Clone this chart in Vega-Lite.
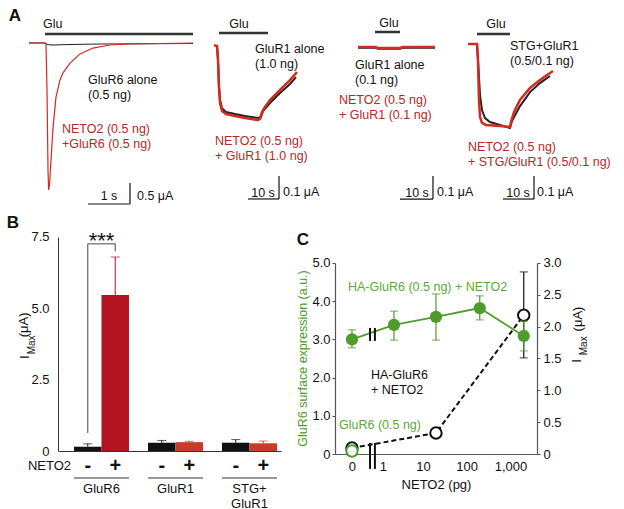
{
"$schema":"https://vega.github.io/schema/vega-lite/v6.json",
"padding":0,
"autosize":{"type":"pad"},
"background":"white",
"config":{"view":{"stroke":null},"font":"Liberation Sans","concat":{"spacing":0}},
"datasets":{
"a1k":[{"t":0.69,"i":0},{"t":1.071,"i":0},{"t":1.119,"i":-0.036},{"t":1.238,"i":-0.048},{"t":1.667,"i":-0.036},{"t":2.381,"i":-0.024},{"t":4.595,"i":-0.012}],
"a1r":[{"t":0.69,"i":0},{"t":1.071,"i":0},{"t":1.095,"i":-0.02},{"t":1.119,"i":-1.12},{"t":1.143,"i":-3.02},{"t":1.157,"i":-3.5},{"t":1.179,"i":-3.38},{"t":1.214,"i":-2.79},{"t":1.262,"i":-2.02},{"t":1.333,"i":-1.29},{"t":1.429,"i":-0.88},{"t":1.5,"i":-0.71},{"t":1.667,"i":-0.48},{"t":1.905,"i":-0.26},{"t":2.214,"i":-0.12},{"t":2.619,"i":-0.048},{"t":3.095,"i":-0.024},{"t":3.81,"i":-0.012},{"t":4.595,"i":-0.005}],
"a2k":[{"t":2.26,"i":0},{"t":2.58,"i":-0.061},{"t":2.9,"i":-0.17},{"t":3.23,"i":-0.235},{"t":3.87,"i":-0.27},{"t":5.16,"i":-0.287},{"t":8.06,"i":-0.296},{"t":11.29,"i":-0.304},{"t":15.48,"i":-0.313},{"t":16.45,"i":-0.309},{"t":17.1,"i":-0.283},{"t":19.35,"i":-0.248},{"t":22.58,"i":-0.204},{"t":25.81,"i":-0.165},{"t":27.74,"i":-0.135}],
"a2r":[{"t":1.29,"i":0.004},{"t":2.26,"i":0},{"t":2.58,"i":-0.061},{"t":2.9,"i":-0.183},{"t":3.23,"i":-0.248},{"t":3.87,"i":-0.283},{"t":5.16,"i":-0.296},{"t":8.06,"i":-0.304},{"t":11.29,"i":-0.313},{"t":15.48,"i":-0.322},{"t":16.13,"i":-0.317},{"t":16.77,"i":-0.287},{"t":17.74,"i":-0.265},{"t":19.35,"i":-0.235},{"t":22.58,"i":-0.191},{"t":25.81,"i":-0.148},{"t":28.06,"i":-0.113}],
"a3k":[{"t":7.42,"i":-0.003},{"t":12.9,"i":-0.003},{"t":14,"i":-0.008},{"t":21,"i":-0.008},{"t":22,"i":-0.003},{"t":32.26,"i":-0.003}],
"a3r":[{"t":7.42,"i":0},{"t":12.9,"i":0},{"t":13.87,"i":-0.004},{"t":20.97,"i":-0.004},{"t":21.9,"i":0},{"t":32.26,"i":0}],
"a4k":[{"t":8.71,"i":0},{"t":9.03,"i":-0.07},{"t":9.68,"i":-0.222},{"t":10.32,"i":-0.287},{"t":11.29,"i":-0.322},{"t":12.9,"i":-0.339},{"t":16.13,"i":-0.352},{"t":19.35,"i":-0.365},{"t":20,"i":-0.335},{"t":22.58,"i":-0.27},{"t":25.81,"i":-0.209},{"t":29.03,"i":-0.17},{"t":32.26,"i":-0.139}],
"a4r":[{"t":5.81,"i":0},{"t":8.71,"i":0},{"t":9.03,"i":-0.07},{"t":9.35,"i":-0.243},{"t":9.68,"i":-0.317},{"t":10.32,"i":-0.343},{"t":11.61,"i":-0.352},{"t":16.13,"i":-0.357},{"t":19.35,"i":-0.361},{"t":19.68,"i":-0.339},{"t":20.65,"i":-0.296},{"t":22.58,"i":-0.243},{"t":25.81,"i":-0.191},{"t":29.03,"i":-0.157},{"t":31.29,"i":-0.135},{"t":33.23,"i":-0.117}],
"bdata":[
{"group":"GluR6","neto":"-","v":0.15,"hi":0.25,"key":"GluR6-"},
{"group":"GluR6","neto":"+","v":5.47,"hi":6.8,"key":"GluR6+"},
{"group":"GluR1","neto":"-","v":0.29,"hi":0.37,"key":"GluR1-"},
{"group":"GluR1","neto":"+","v":0.31,"hi":0.34,"key":"GluR1+"},
{"group":"STG+ GluR1","neto":"-","v":0.29,"hi":0.4,"key":"STG-"},
{"group":"STG+ GluR1","neto":"+","v":0.27,"hi":0.35,"key":"STG+"}],
"cexp":[{"dose":0,"expr":3.0,"lo":2.78,"hi":3.25},{"dose":2,"expr":3.38,"lo":2.98,"hi":3.74},{"dose":20,"expr":3.59,"lo":2.98,"hi":4.19},{"dose":200,"expr":3.82,"lo":3.51,"hi":4.14},{"dose":2000,"expr":3.09,"lo":2.7,"hi":3.48}],
"calone":[{"dose":0,"expr":0.08}],
"cim":[{"dose":0,"imax":0.094},{"dose":20,"imax":0.33},{"dose":2000,"imax":2.18,"lo":1.51,"hi":2.86}]
},
"spacing":0,
"vconcat":[
{"hconcat":[
 {"width":210,"height":214,"view":{"fill":"white","stroke":null},"data":{"values":[{}]},"layer":[
  {"data":{"name":"a1k"},"mark":{"type":"line","color":"#222","strokeWidth":1.2},"encoding":{"x":{"field":"t","type":"quantitative","scale":{"domain":[0,5],"nice":false,"zero":false},"axis":null},"y":{"field":"i","type":"quantitative","scale":{"domain":[-4.0714,1.024],"nice":false,"zero":false},"axis":null}}},
  {"data":{"name":"a1r"},"mark":{"type":"line","color":"#d22b1f","strokeWidth":1.2},"encoding":{"x":{"field":"t","type":"quantitative","axis":null},"y":{"field":"i","type":"quantitative","axis":null}}},
  {"mark":{"type":"rule","color":"#333","strokeWidth":2.5},"encoding":{"x":{"datum":1.071,"axis":null},"x2":{"datum":4.595},"y":{"datum":0.214,"axis":null}}},
  {"mark":{"type":"text","align":"left","baseline":"middle","fontSize":12.5,"color":"#111"},"encoding":{"x":{"datum":1.024,"axis":null},"y":{"datum":0.452,"axis":null},"text":{"value":"Glu"}}},
  {"mark":{"type":"text","align":"center","baseline":"middle","fontSize":17,"fontWeight":"bold","color":"#111"},"encoding":{"x":{"datum":0.357,"axis":null},"y":{"datum":0.643,"axis":null},"text":{"value":"A"}}},
  {"mark":{"type":"text","align":"left","baseline":"top","fontSize":12.5,"lineHeight":15.5,"color":"#111"},"encoding":{"x":{"datum":2.095,"axis":null},"y":{"datum":-0.729,"axis":null},"text":{"value":["GluR6 alone","(0.5 ng)"]}}},
  {"mark":{"type":"text","align":"left","baseline":"top","fontSize":12.5,"lineHeight":15.5,"color":"#b8281e"},"encoding":{"x":{"datum":1.476,"axis":null},"y":{"datum":-1.895,"axis":null},"text":{"value":["NETO2 (0.5 ng)","+GluR6 (0.5 ng)"]}}},
  {"mark":{"type":"rule","color":"#111","strokeWidth":1.2},"encoding":{"x":{"datum":2.095,"axis":null},"x2":{"datum":3.095},"y":{"datum":-3.833,"axis":null}}},
  {"mark":{"type":"rule","color":"#111","strokeWidth":1.2},"encoding":{"x":{"datum":3.095,"axis":null},"y":{"datum":-3.333,"axis":null},"y2":{"datum":-3.833}}},
  {"mark":{"type":"text","align":"center","baseline":"middle","fontSize":12.5,"color":"#111"},"encoding":{"x":{"datum":2.595,"axis":null},"y":{"datum":-3.643,"axis":null},"text":{"value":"1 s"}}},
  {"mark":{"type":"text","align":"left","baseline":"middle","fontSize":12.5,"color":"#111"},"encoding":{"x":{"datum":3.262,"axis":null},"y":{"datum":-3.643,"axis":null},"text":{"value":"0.5 μA"}}}
 ]},
 {"width":125,"height":214,"data":{"values":[{}]},"layer":[
  {"data":{"name":"a2k"},"mark":{"type":"line","color":"#222","strokeWidth":2},"encoding":{"x":{"field":"t","type":"quantitative","scale":{"domain":[0,40.32],"nice":false,"zero":false},"axis":null},"y":{"field":"i","type":"quantitative","scale":{"domain":[-0.7304,0.2],"nice":false,"zero":false},"axis":null}}},
  {"data":{"name":"a2r"},"mark":{"type":"line","color":"#d22b1f","strokeWidth":2.5},"encoding":{"x":{"field":"t","type":"quantitative","axis":null},"y":{"field":"i","type":"quantitative","axis":null}}},
  {"mark":{"type":"rule","color":"#333","strokeWidth":2.5},"encoding":{"x":{"datum":2.9,"axis":null},"x2":{"datum":18.71},"y":{"datum":0.0565,"axis":null}}},
  {"mark":{"type":"text","align":"center","baseline":"middle","fontSize":12.5,"color":"#111"},"encoding":{"x":{"datum":9.35,"axis":null},"y":{"datum":0.0957,"axis":null},"text":{"value":"Glu"}}},
  {"mark":{"type":"text","align":"left","baseline":"top","fontSize":12.5,"lineHeight":15.5,"color":"#111"},"encoding":{"x":{"datum":14.52,"axis":null},"y":{"datum":0.0148,"axis":null},"text":{"value":["GluR1 alone","(1.0 ng)"]}}},
  {"mark":{"type":"text","align":"left","baseline":"top","fontSize":12.5,"lineHeight":15.5,"color":"#b8281e"},"encoding":{"x":{"datum":1.61,"axis":null},"y":{"datum":-0.385,"axis":null},"text":{"value":["NETO2 (0.5 ng)","+ GluR1 (1.0 ng)"]}}},
  {"mark":{"type":"rule","color":"#111","strokeWidth":1.2},"encoding":{"x":{"datum":12.26,"axis":null},"x2":{"datum":22.26},"y":{"datum":-0.665,"axis":null}}},
  {"mark":{"type":"rule","color":"#111","strokeWidth":1.2},"encoding":{"x":{"datum":22.26,"axis":null},"y":{"datum":-0.565,"axis":null},"y2":{"datum":-0.665}}},
  {"mark":{"type":"text","align":"center","baseline":"middle","fontSize":12.5,"color":"#111"},"encoding":{"x":{"datum":17.1,"axis":null},"y":{"datum":-0.639,"axis":null},"text":{"value":"10 s"}}},
  {"mark":{"type":"text","align":"left","baseline":"middle","fontSize":12.5,"color":"#111"},"encoding":{"x":{"datum":23.55,"axis":null},"y":{"datum":-0.635,"axis":null},"text":{"value":"0.1 μA"}}}
 ]},
 {"width":115,"height":214,"data":{"values":[{}]},"layer":[
  {"data":{"name":"a3k"},"mark":{"type":"line","color":"#222","strokeWidth":2},"encoding":{"x":{"field":"t","type":"quantitative","scale":{"domain":[0,37.1],"nice":false,"zero":false},"axis":null},"y":{"field":"i","type":"quantitative","scale":{"domain":[-0.7261,0.2043],"nice":false,"zero":false},"axis":null}}},
  {"data":{"name":"a3r"},"mark":{"type":"line","color":"#d22b1f","strokeWidth":2.5},"encoding":{"x":{"field":"t","type":"quantitative","axis":null},"y":{"field":"i","type":"quantitative","axis":null}}},
  {"mark":{"type":"rule","color":"#333","strokeWidth":2.5},"encoding":{"x":{"datum":12.9,"axis":null},"x2":{"datum":20.97},"y":{"datum":0.0652,"axis":null}}},
  {"mark":{"type":"text","align":"center","baseline":"middle","fontSize":12.5,"color":"#111"},"encoding":{"x":{"datum":17.42,"axis":null},"y":{"datum":0.104,"axis":null},"text":{"value":"Glu"}}},
  {"mark":{"type":"text","align":"left","baseline":"top","fontSize":12.5,"lineHeight":15.5,"color":"#111"},"encoding":{"x":{"datum":6.45,"axis":null},"y":{"datum":-0.0504,"axis":null},"text":{"value":["GluR1 alone","(0.1 ng)"]}}},
  {"mark":{"type":"text","align":"left","baseline":"top","fontSize":12.5,"lineHeight":15.5,"color":"#b8281e"},"encoding":{"x":{"datum":1.29,"axis":null},"y":{"datum":-0.2026,"axis":null},"text":{"value":["NETO2 (0.5 ng)","+ GluR1 (0.1 ng)"]}}},
  {"mark":{"type":"rule","color":"#111","strokeWidth":1.2},"encoding":{"x":{"datum":20.97,"axis":null},"x2":{"datum":31.61},"y":{"datum":-0.661,"axis":null}}},
  {"mark":{"type":"rule","color":"#111","strokeWidth":1.2},"encoding":{"x":{"datum":31.61,"axis":null},"y":{"datum":-0.561,"axis":null},"y2":{"datum":-0.661}}},
  {"mark":{"type":"text","align":"center","baseline":"middle","fontSize":12.5,"color":"#111"},"encoding":{"x":{"datum":26.45,"axis":null},"y":{"datum":-0.635,"axis":null},"text":{"value":"10 s"}}},
  {"mark":{"type":"text","align":"left","baseline":"middle","fontSize":12.5,"color":"#111"},"encoding":{"x":{"datum":32.9,"axis":null},"y":{"datum":-0.63,"axis":null},"text":{"value":"0.1 μA"}}}
 ]},
 {"width":174,"height":214,"data":{"values":[{}]},"layer":[
  {"data":{"name":"a4k"},"mark":{"type":"line","color":"#222","strokeWidth":2},"encoding":{"x":{"field":"t","type":"quantitative","scale":{"domain":[0,56.13],"nice":false,"zero":false},"axis":null},"y":{"field":"i","type":"quantitative","scale":{"domain":[-0.7391,0.1913],"nice":false,"zero":false},"axis":null}}},
  {"data":{"name":"a4r"},"mark":{"type":"line","color":"#d22b1f","strokeWidth":2.5},"encoding":{"x":{"field":"t","type":"quantitative","axis":null},"y":{"field":"i","type":"quantitative","axis":null}}},
  {"mark":{"type":"rule","color":"#333","strokeWidth":2.5},"encoding":{"x":{"datum":8.71,"axis":null},"x2":{"datum":19.35},"y":{"datum":0.0435,"axis":null}}},
  {"mark":{"type":"text","align":"center","baseline":"middle","fontSize":12.5,"color":"#111"},"encoding":{"x":{"datum":14.84,"axis":null},"y":{"datum":0.087,"axis":null},"text":{"value":"Glu"}}},
  {"mark":{"type":"text","align":"left","baseline":"top","fontSize":12.5,"lineHeight":15.5,"color":"#111"},"encoding":{"x":{"datum":19.35,"axis":null},"y":{"datum":0.0191,"axis":null},"text":{"value":["STG+GluR1","(0.5/0.1 ng)"]}}},
  {"mark":{"type":"text","align":"left","baseline":"top","fontSize":12.5,"lineHeight":15.5,"color":"#b8281e"},"encoding":{"x":{"datum":5.81,"axis":null},"y":{"datum":-0.42,"axis":null},"text":{"value":["NETO2 (0.5 ng)","+ STG/GluR1 (0.5/0.1 ng)"]}}},
  {"mark":{"type":"rule","color":"#111","strokeWidth":1.2},"encoding":{"x":{"datum":17.1,"axis":null},"x2":{"datum":27.1},"y":{"datum":-0.674,"axis":null}}},
  {"mark":{"type":"rule","color":"#111","strokeWidth":1.2},"encoding":{"x":{"datum":27.1,"axis":null},"y":{"datum":-0.574,"axis":null},"y2":{"datum":-0.674}}},
  {"mark":{"type":"text","align":"center","baseline":"middle","fontSize":12.5,"color":"#111"},"encoding":{"x":{"datum":21.94,"axis":null},"y":{"datum":-0.648,"axis":null},"text":{"value":"10 s"}}},
  {"mark":{"type":"text","align":"left","baseline":"middle","fontSize":12.5,"color":"#111"},"encoding":{"x":{"datum":28.06,"axis":null},"y":{"datum":-0.643,"axis":null},"text":{"value":"0.1 μA"}}}
 ]}
],"spacing":0,"bounds":"flush"},
{"hconcat":[
 {"width":58,"height":236,"view":{"fill":"white","stroke":null},"data":{"values":[]},"mark":{"type":"point","opacity":0}},
 {"width":223,"height":236,"data":{"name":"bdata"},"layer":[
  {"mark":{"type":"bar"},"encoding":{
    "x":{"field":"group","type":"nominal","scale":{"domain":["GluR6","GluR1","STG+ GluR1"],"paddingInner":0.257,"paddingOuter":0.135,"align":0.8},"axis":{"title":null,"ticks":false,"labelAngle":0,"labelExpr":"split(datum.label, ' ')","labelPadding":31,"labelFontSize":13,"labelColor":"#111","labelLineHeight":15,"domainColor":"#333","domainWidth":1}},
    "xOffset":{"field":"neto","type":"nominal","scale":{"domain":["-","+"],"paddingInner":0,"paddingOuter":0}},
    "y":{"field":"v","type":"quantitative","scale":{"domain":[0,8.271],"nice":false,"zero":false},"axis":{"values":[0,2.5,5,7.5],"labelExpr":"datum.value == 0 ? '0' : format(datum.value, '.1f')","title":null,"grid":false,"ticks":false,"labelOverlap":false,"labelPadding":9,"labelFontSize":13,"labelColor":"#111","domainColor":"#333","domainWidth":1,"domainDash":[214,40]}},
    "color":{"field":"key","type":"nominal","scale":{"domain":["GluR6-","GluR6+","GluR1-","GluR1+","STG-","STG+"],"range":["#111111","#b31320","#111111","#c93a2b","#111111","#c93a2b"]},"legend":null}}},
  {"mark":{"type":"rule","strokeWidth":1},"encoding":{"x":{"field":"group","type":"nominal"},"xOffset":{"field":"neto","type":"nominal"},"y":{"field":"v","type":"quantitative"},"y2":{"field":"hi"},"color":{"field":"key","type":"nominal","legend":null}}},
  {"mark":{"type":"tick","size":9,"thickness":1,"orient":"horizontal"},"encoding":{"x":{"field":"group","type":"nominal"},"xOffset":{"field":"neto","type":"nominal"},"y":{"field":"hi","type":"quantitative"},"color":{"field":"key","type":"nominal","legend":null}}},
  {"transform":[{"filter":"datum.key == 'GluR6+'"}],"mark":{"type":"rule","color":"#666","strokeWidth":1.2},"encoding":{"x":{"field":"group","type":"nominal","bandPosition":0.25},"y":{"datum":0.63},"y2":{"datum":7.26}}},
  {"transform":[{"filter":"datum.key == 'GluR6+'"}],"mark":{"type":"rule","color":"#666","strokeWidth":1.2},"encoding":{"x":{"field":"group","type":"nominal","bandPosition":0.75},"y":{"datum":7.0},"y2":{"datum":7.26}}},
  {"transform":[{"filter":"datum.key == 'GluR6+'"}],"mark":{"type":"rule","color":"#666","strokeWidth":1.2},"encoding":{"x":{"field":"group","type":"nominal","bandPosition":0.25},"x2":{"field":"group","bandPosition":0.75},"y":{"datum":7.26}}},
  {"transform":[{"filter":"datum.key == 'GluR6+'"}],"mark":{"type":"text","align":"center","baseline":"alphabetic","fontSize":22,"color":"#111"},"encoding":{"x":{"field":"group","type":"nominal"},"y":{"datum":7.12},"text":{"value":"***"}}},
  {"mark":{"type":"text","align":"center","baseline":"middle","fontSize":20,"fontWeight":"bold","color":"#111"},"encoding":{"x":{"field":"group","type":"nominal"},"xOffset":{"field":"neto","type":"nominal"},"y":{"datum":-0.526},"text":{"field":"neto"}}},
  {"transform":[{"filter":"datum.neto == '+'"}],"mark":{"type":"rule","color":"#333","strokeWidth":1},"encoding":{"x":{"field":"group","type":"nominal","bandPosition":0},"x2":{"field":"group","bandPosition":1},"y":{"datum":-0.946}}},
  {"transform":[{"filter":"datum.key == 'GluR6-'"}],"mark":{"type":"text","align":"right","baseline":"middle","fontSize":13,"dx":-3,"color":"#111"},"encoding":{"x":{"field":"group","type":"nominal","bandPosition":0},"y":{"datum":-0.526},"text":{"value":"NETO2"}}},
  {"transform":[{"filter":"datum.key == 'GluR6-'"}],"mark":{"type":"text","align":"center","baseline":"middle","fontSize":13,"angle":270,"dy":-49,"color":"#111"},"encoding":{"x":{"field":"group","type":"nominal","bandPosition":0},"y":{"datum":3.29},"text":{"value":"I"}}},
  {"transform":[{"filter":"datum.key == 'GluR6-'"}],"mark":{"type":"text","align":"center","baseline":"middle","fontSize":10,"angle":270,"dy":-42,"color":"#111"},"encoding":{"x":{"field":"group","type":"nominal","bandPosition":0},"y":{"datum":3.72},"text":{"value":"Max"}}},
  {"transform":[{"filter":"datum.key == 'GluR6-'"}],"mark":{"type":"text","align":"center","baseline":"middle","fontSize":13,"angle":270,"dy":-50,"color":"#111"},"encoding":{"x":{"field":"group","type":"nominal","bandPosition":0},"y":{"datum":4.42},"text":{"value":"(μA)"}}},
  {"transform":[{"filter":"datum.key == 'GluR6-'"}],"mark":{"type":"text","align":"center","baseline":"middle","fontSize":17,"fontWeight":"bold","dx":-61,"color":"#111"},"encoding":{"x":{"field":"group","type":"nominal","bandPosition":0},"y":{"datum":7.99},"text":{"value":"B"}}}
 ]},
 {"width":54,"height":236,"data":{"values":[]},"mark":{"type":"point","opacity":0}},
 {"width":202,"height":239,"data":{"values":[{}]},"layer":[
    {"data":{"name":"cim"},"mark":{"type":"line","color":"#111","strokeWidth":2,"strokeDash":[5,3]},"encoding":{
      "x":{"field":"dose","type":"quantitative","scale":{"type":"symlog","constant":0.25,"domain":[-0.358,4003.5],"nice":false,"zero":false},"axis":{"values":[0,1,10,100,1000],"labelExpr":"format(datum.value, ',')","title":"NETO2 (pg)","titleFontSize":13,"titleFontWeight":"normal","titleColor":"#111","titlePadding":5,"ticks":false,"labelPadding":6,"labelFontSize":13,"labelColor":"#111","labelFlush":false,"labelOverlap":false,"domainColor":"#555","domainWidth":1.2,"grid":false}},
      "y":{"field":"imax","type":"quantitative","scale":{"domain":[0,3.7539],"nice":false,"zero":false},"axis":{"orient":"right","values":[0,0.5,1,1.5,2,2.5,3],"labelExpr":"datum.value == 0 ? '0' : format(datum.value, '.1f')","title":null,"grid":false,"ticks":true,"tickSize":3,"tickColor":"#555","labelOverlap":false,"labelPadding":3,"labelFontSize":13,"labelColor":"#111","domainColor":"#555","domainWidth":1.2,"domainDash":[191,60]}}}},
    {"data":{"name":"cim"},"transform":[{"filter":"isValid(datum.hi)"}],"mark":{"type":"rule","color":"#111","strokeWidth":1.2},"encoding":{"x":{"field":"dose","type":"quantitative"},"y":{"field":"lo","type":"quantitative","scale":{"domain":[0,3.7539],"nice":false,"zero":false},"axis":null},"y2":{"field":"hi"}}},
    {"data":{"name":"cim"},"transform":[{"filter":"isValid(datum.hi)"}],"mark":{"type":"tick","color":"#111","size":8,"thickness":1.2,"orient":"horizontal"},"encoding":{"x":{"field":"dose","type":"quantitative"},"y":{"field":"hi","type":"quantitative","scale":{"domain":[0,3.7539],"nice":false,"zero":false},"axis":null}}},
    {"data":{"name":"cim"},"transform":[{"filter":"isValid(datum.hi)"}],"mark":{"type":"tick","color":"#111","size":8,"thickness":1.2,"orient":"horizontal"},"encoding":{"x":{"field":"dose","type":"quantitative"},"y":{"field":"lo","type":"quantitative","scale":{"domain":[0,3.7539],"nice":false,"zero":false},"axis":null}}},
    {"data":{"name":"cim"},"mark":{"type":"circle","size":130,"fill":"white","stroke":"#111","strokeWidth":2,"opacity":1},"encoding":{"x":{"field":"dose","type":"quantitative"},"y":{"field":"imax","type":"quantitative","scale":{"domain":[0,3.7539],"nice":false,"zero":false},"axis":null}}},
    {"mark":{"type":"text","align":"center","baseline":"middle","fontSize":13,"angle":270,"dy":40,"color":"#111"},"encoding":{"x":{"datum":4003.5},"y":{"datum":1.46,"scale":{"domain":[0,3.7539],"nice":false,"zero":false},"axis":null},"text":{"value":"I"}}},
    {"mark":{"type":"text","align":"center","baseline":"middle","fontSize":10,"angle":270,"dy":47,"color":"#111"},"encoding":{"x":{"datum":4003.5},"y":{"datum":1.7,"scale":{"domain":[0,3.7539],"nice":false,"zero":false},"axis":null},"text":{"value":"Max"}}},
    {"mark":{"type":"text","align":"center","baseline":"middle","fontSize":13,"angle":270,"dy":41,"color":"#111"},"encoding":{"x":{"datum":4003.5},"y":{"datum":2.12,"scale":{"domain":[0,3.7539],"nice":false,"zero":false},"axis":null},"text":{"value":"(μA)"}}},
    {"data":{"name":"cexp"},"mark":{"type":"line","color":"#4e9c2d","strokeWidth":1.8},"encoding":{"x":{"field":"dose","type":"quantitative"},
      "y":{"field":"expr","type":"quantitative","scale":{"domain":[0,6.2565],"nice":false,"zero":false},"axis":{"orient":"left","values":[0,1,2,3,4,5],"labelExpr":"datum.value == 0 ? '0' : format(datum.value, '.1f')","title":"GluR6 surface expression (a.u.)","titleColor":"#4e9c2d","titleFontSize":12.5,"titleFontWeight":"normal","titlePadding":2,"titleY":143,"grid":false,"ticks":true,"tickSize":3,"tickColor":"#555","labelOverlap":false,"labelPadding":2,"labelFontSize":13,"labelColor":"#111","domainColor":"#555","domainWidth":1.2,"domainDash":[191,60]}}}},
    {"data":{"name":"cexp"},"mark":{"type":"rule","color":"#4e9c2d","strokeWidth":1.2},"encoding":{"x":{"field":"dose","type":"quantitative"},"y":{"field":"lo","type":"quantitative","scale":{"domain":[0,6.2565],"nice":false,"zero":false},"axis":null},"y2":{"field":"hi"}}},
    {"data":{"name":"cexp"},"mark":{"type":"tick","color":"#4e9c2d","size":8,"thickness":1.2,"orient":"horizontal"},"encoding":{"x":{"field":"dose","type":"quantitative"},"y":{"field":"hi","type":"quantitative","scale":{"domain":[0,6.2565],"nice":false,"zero":false},"axis":null}}},
    {"data":{"name":"cexp"},"mark":{"type":"tick","color":"#4e9c2d","size":8,"thickness":1.2,"orient":"horizontal"},"encoding":{"x":{"field":"dose","type":"quantitative"},"y":{"field":"lo","type":"quantitative","scale":{"domain":[0,6.2565],"nice":false,"zero":false},"axis":null}}},
    {"data":{"name":"cexp"},"mark":{"type":"circle","size":150,"color":"#4e9c2d","opacity":1},"encoding":{"x":{"field":"dose","type":"quantitative"},"y":{"field":"expr","type":"quantitative","scale":{"domain":[0,6.2565],"nice":false,"zero":false},"axis":null}}},
    {"data":{"name":"calone"},"mark":{"type":"circle","size":130,"fill":"white","stroke":"#4e9c2d","strokeWidth":2,"opacity":1},"encoding":{"x":{"field":"dose","type":"quantitative"},"y":{"field":"expr","type":"quantitative","scale":{"domain":[0,6.2565],"nice":false,"zero":false},"axis":null}}},
    {"mark":{"type":"rule","color":"#111","strokeWidth":2},"encoding":{"x":{"datum":0.391},"y":{"datum":2.96,"scale":{"domain":[0,6.2565],"nice":false,"zero":false},"axis":null},"y2":{"datum":3.3}}},
    {"mark":{"type":"rule","color":"#111","strokeWidth":2},"encoding":{"x":{"datum":0.58},"y":{"datum":2.96,"scale":{"domain":[0,6.2565],"nice":false,"zero":false},"axis":null},"y2":{"datum":3.3}}},
    {"mark":{"type":"rule","color":"#111","strokeWidth":2},"encoding":{"x":{"datum":0.391},"y":{"datum":-0.39,"scale":{"domain":[0,6.2565],"nice":false,"zero":false},"axis":null},"y2":{"datum":0.29}}},
    {"mark":{"type":"rule","color":"#111","strokeWidth":2},"encoding":{"x":{"datum":0.58},"y":{"datum":-0.39,"scale":{"domain":[0,6.2565],"nice":false,"zero":false},"axis":null},"y2":{"datum":0.29}}},
    {"mark":{"type":"text","align":"left","baseline":"middle","fontSize":12.5,"color":"#5aaa3a"},"encoding":{"x":{"datum":-0.058},"y":{"datum":4.37,"scale":{"domain":[0,6.2565],"nice":false,"zero":false},"axis":null},"text":{"value":"HA-GluR6 (0.5 ng) + NETO2"}}},
    {"mark":{"type":"text","align":"left","baseline":"top","fontSize":12.5,"lineHeight":15.5,"color":"#111"},"encoding":{"x":{"datum":0.426},"y":{"datum":2.236,"scale":{"domain":[0,6.2565],"nice":false,"zero":false},"axis":null},"text":{"value":["HA-GluR6","+ NETO2"]}}},
    {"mark":{"type":"text","align":"left","baseline":"middle","fontSize":12.5,"color":"#5aaa3a"},"encoding":{"x":{"datum":-0.243},"y":{"datum":0.76,"scale":{"domain":[0,6.2565],"nice":false,"zero":false},"axis":null},"text":{"value":"GluR6 (0.5 ng)"}}},
    {"mark":{"type":"text","align":"center","baseline":"middle","fontSize":17,"fontWeight":"bold","color":"#111"},"encoding":{"x":{"datum":-3.0},"y":{"datum":5.6,"scale":{"domain":[0,6.2565],"nice":false,"zero":false},"axis":null},"text":{"value":"C"}}}
  ],"resolve":{"scale":{"y":"independent"}}}
],"spacing":0,"bounds":"flush"}
]
}
